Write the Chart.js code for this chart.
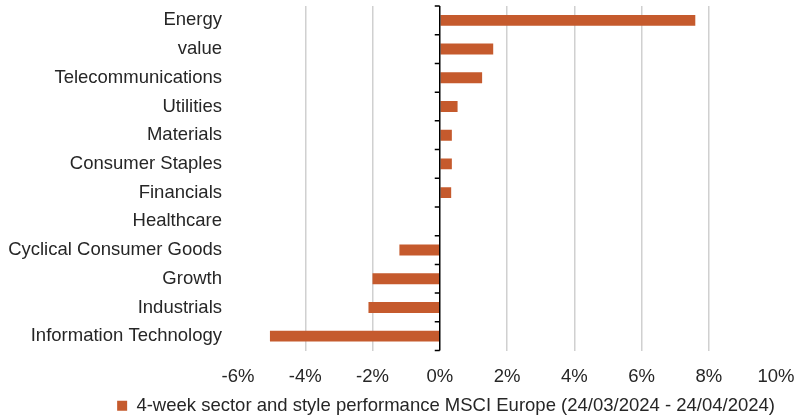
<!DOCTYPE html>
<html>
<head>
<meta charset="utf-8">
<script src="https://cdn.jsdelivr.net/npm/chart.js@4"></script>
<style>
  html, body { margin: 0; padding: 0; background: #fff; }
  #wrap { width: 794px; height: 417px; }
</style>
</head>
<body>
<div id="wrap"><canvas id="perfChart"></canvas></div>
<script>
const categories = [
  "Energy", "value", "Telecommunications", "Utilities", "Materials",
  "Consumer Staples", "Financials", "Healthcare", "Cyclical Consumer Goods",
  "Growth", "Industrials", "Information Technology"
];
const performance = [7.6, 1.59, 1.26, 0.53, 0.36, 0.36, 0.34, 0.0, -1.2, -2.0, -2.12, -5.05];
const seriesLabel = "4-week sector and style performance MSCI Europe (24/03/2024 - 24/04/2024)";
const xMin = -6, xMax = 10, xStep = 2;

const FONT = "Liberation Sans, Arial, sans-serif";
const TEXT = "#262626";

// zero line with small category ticks, like the original axis
const zeroAxis = {
  id: "zeroAxis",
  afterDatasetsDraw(chart) {
    const { ctx, chartArea, scales } = chart;
    const x0 = scales.x.getPixelForValue(0);
    ctx.save();
    ctx.strokeStyle = "#000";
    ctx.lineWidth = 1.5;
    ctx.beginPath();
    ctx.moveTo(x0, chartArea.top);
    ctx.lineTo(x0, chartArea.bottom);
    const n = categories.length;
    for (let i = 0; i <= n; i++) {
      let y;
      if (i === 0) y = chartArea.top;
      else if (i === n) y = chartArea.bottom;
      else y = (scales.y.getPixelForValue(i - 1) + scales.y.getPixelForValue(i)) / 2;
      ctx.moveTo(x0 - 5, y);
      ctx.lineTo(x0, y);
    }
    ctx.stroke();
    ctx.restore();
  }
};

new Chart(document.getElementById("perfChart"), {
  type: "bar",
  data: {
    labels: categories,
    datasets: [{
      label: seriesLabel,
      data: performance,
      backgroundColor: "#c55a2d",
      borderWidth: 0,
      categoryPercentage: 1,
      barPercentage: 0.38
    }]
  },
  options: {
    indexAxis: "y",
    responsive: true,
    maintainAspectRatio: false,
    animation: false,
    layout: { padding: { top: 6, right: 18, left: 0, bottom: -8 } },
    plugins: {
      tooltip: { enabled: false },
      legend: {
        position: "bottom",
        align: "end",
        labels: {
          boxWidth: 10,
          boxHeight: 10,
          padding: 1,
          color: TEXT,
          font: { family: FONT, size: 18.5 }
        }
      }
    },
    scales: {
      x: {
        min: xMin,
        max: xMax,
        border: { display: false },
        grid: {
          drawTicks: false,
          lineWidth: 1.5,
          color: (c) => (c.tick && (c.tick.value === xMin || c.tick.value === xMax || c.tick.value === 0)) ? "rgba(0,0,0,0)" : "#d0d0d0"
        },
        ticks: {
          stepSize: xStep,
          padding: 15,
          color: TEXT,
          font: { family: FONT, size: 18.5 },
          callback: (v) => v + "%"
        },
        afterFit: (s) => { s.height = 45; s.paddingLeft = 0; s.paddingRight = 0; }
      },
      y: {
        border: { display: false },
        grid: { display: false, drawTicks: false },
        ticks: {
          padding: 16,
          color: TEXT,
          font: { family: FONT, size: 18.5 }
        },
        afterFit: (s) => { s.width = 238; s.paddingTop = 0; s.paddingBottom = 0; }
      }
    }
  },
  plugins: [zeroAxis]
});
</script>
</body>
</html>
